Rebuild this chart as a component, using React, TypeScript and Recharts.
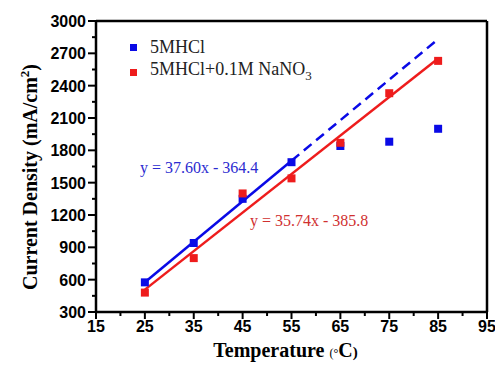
import {
  ComposedChart,
  Scatter,
  Line,
  XAxis,
  YAxis,
  ReferenceLine,
} from 'recharts';

const temps = [25, 35, 45, 55, 65, 75, 85];
const hclValues = [575, 940, 1350, 1690, 1840, 1880, 2000];
const nitrateValues = [480, 800, 1400, 1540, 1870, 2330, 2630];

// fit lines: y = 37.60x - 364.4 (solid 25-55, dashed 55-85) and y = 35.74x - 385.8
const hclFitSolid = [{ x: 25, y: 575.6 }, { x: 55, y: 1703.6 }];
const hclFitDashed = [{ x: 55, y: 1703.6 }, { x: 85, y: 2831.6 }];
const nitrateFit = [{ x: 25, y: 507.7 }, { x: 85, y: 2652.1 }];

const xTicks = [15, 20, 25, 30, 35, 40, 45, 50, 55, 60, 65, 70, 75, 80, 85, 90, 95];
const yTicks = [300, 450, 600, 750, 900, 1050, 1200, 1350, 1500, 1650, 1800, 1950, 2100, 2250, 2400, 2550, 2700, 2850, 3000];

const hclData = temps.map((t, i) => ({ x: t, y: hclValues[i] }));
const nitrateData = temps.map((t, i) => ({ x: t, y: nitrateValues[i] }));

const BLUE = '#0a0ae6';
const RED = '#ee1c1c';
const tickFont = '"Liberation Sans", Arial, sans-serif';
const serif = '"Liberation Serif", "Times New Roman", serif';

function XTick({ x, y, payload }: any) {
  const major = payload.value % 10 === 5;
  return (
    <g>
      <line x1={x} y1={y} x2={x} y2={y + (major ? 7 : 4)} stroke="#000" strokeWidth={2} />
      {major && (
        <text x={x} y={y + 20} textAnchor="middle" fontFamily={tickFont} fontWeight="bold" fontSize={16} fill="#000">
          {payload.value}
        </text>
      )}
    </g>
  );
}

function YTick({ x, y, payload }: any) {
  const major = payload.value % 300 === 0;
  return (
    <g>
      <line x1={x} y1={y} x2={x - (major ? 8 : 4)} y2={y} stroke="#000" strokeWidth={2} />
      {major && (
        <text x={x - 10} y={y + 6} textAnchor="end" fontFamily={tickFont} fontWeight="bold" fontSize={16} fill="#000">
          {payload.value}
        </text>
      )}
    </g>
  );
}

export default function App() {
  return (
    <div style={{ position: 'absolute', left: 0, top: 0, width: 495, height: 366, background: '#fff' }}>
      <ComposedChart width={495} height={366} margin={{ top: 21, right: 8, left: 0, bottom: 0 }}>
        <XAxis
          type="number"
          dataKey="x"
          domain={[15, 95]}
          ticks={xTicks}
          interval={0}
          height={54}
          tickSize={0}
          tickMargin={0}
          tick={<XTick />}
          axisLine={{ stroke: '#000', strokeWidth: 2.5 }}
        />
        <YAxis
          type="number"
          dataKey="y"
          domain={[300, 3000]}
          ticks={yTicks}
          interval={0}
          width={96}
          tickSize={0}
          tickMargin={0}
          tick={<YTick />}
          axisLine={{ stroke: '#000', strokeWidth: 2.5 }}
        />
        <ReferenceLine y={3000} stroke="#000" strokeWidth={2.5} />
        <ReferenceLine x={95} stroke="#000" strokeWidth={2.5} />
        <Line data={hclFitSolid} dataKey="y" stroke={BLUE} strokeWidth={2.5} dot={false} isAnimationActive={false} />
        <Line data={hclFitDashed} dataKey="y" stroke={BLUE} strokeWidth={2.5} strokeDasharray="10 6" dot={false} isAnimationActive={false} />
        <Line data={nitrateFit} dataKey="y" stroke={RED} strokeWidth={2.5} dot={false} isAnimationActive={false} />
        <Scatter data={hclData} dataKey="y" fill={BLUE} shape="square" isAnimationActive={false} />
        <Scatter data={nitrateData} dataKey="y" fill={RED} shape="square" isAnimationActive={false} />
      </ComposedChart>

      {/* legend */}
      <div style={{ position: 'absolute', left: 130, top: 36, fontFamily: serif, fontSize: 18, color: '#222', lineHeight: '22px' }}>
        <div style={{ display: 'flex', alignItems: 'center' }}>
          <span style={{ width: 7, height: 7, background: BLUE, marginRight: 13, display: 'inline-block' }} />
          5MHCl
        </div>
        <div style={{ display: 'flex', alignItems: 'center' }}>
          <span style={{ width: 7, height: 7, background: RED, marginRight: 13, display: 'inline-block' }} />
          <span>5MHCl+0.1M NaNO<sub style={{ fontSize: 13 }}>3</sub></span>
        </div>
      </div>

      {/* fit equations */}
      <div style={{ position: 'absolute', left: 140, top: 159, fontFamily: serif, fontSize: 16, color: '#2b2bd0', whiteSpace: 'nowrap' }}>
        y = 37.60x - 364.4
      </div>
      <div style={{ position: 'absolute', left: 250, top: 212, fontFamily: serif, fontSize: 16, color: '#d03030', whiteSpace: 'nowrap' }}>
        y = 35.74x - 385.8
      </div>

      {/* axis titles */}
      <div
        style={{
          position: 'absolute',
          left: 29 - 150,
          top: 177 - 12,
          width: 300,
          height: 24,
          textAlign: 'center',
          transform: 'rotate(-90deg)',
          fontFamily: serif,
          fontWeight: 'bold',
          fontSize: 20,
          whiteSpace: 'nowrap',
        }}
      >
        Current Density (mA/cm<sup style={{ fontSize: 13 }}>2</sup>)
      </div>
      <div style={{ position: 'absolute', left: 0, width: 495, top: 339, textAlign: 'center', paddingLeft: 76, boxSizing: 'border-box', fontFamily: serif, fontWeight: 'bold', fontSize: 20, whiteSpace: 'nowrap' }}>
        Temperature <span style={{ fontSize: 12, fontWeight: 'normal' }}>(°</span>C<span style={{ fontSize: 15 }}>)</span>
      </div>
    </div>
  );
}
